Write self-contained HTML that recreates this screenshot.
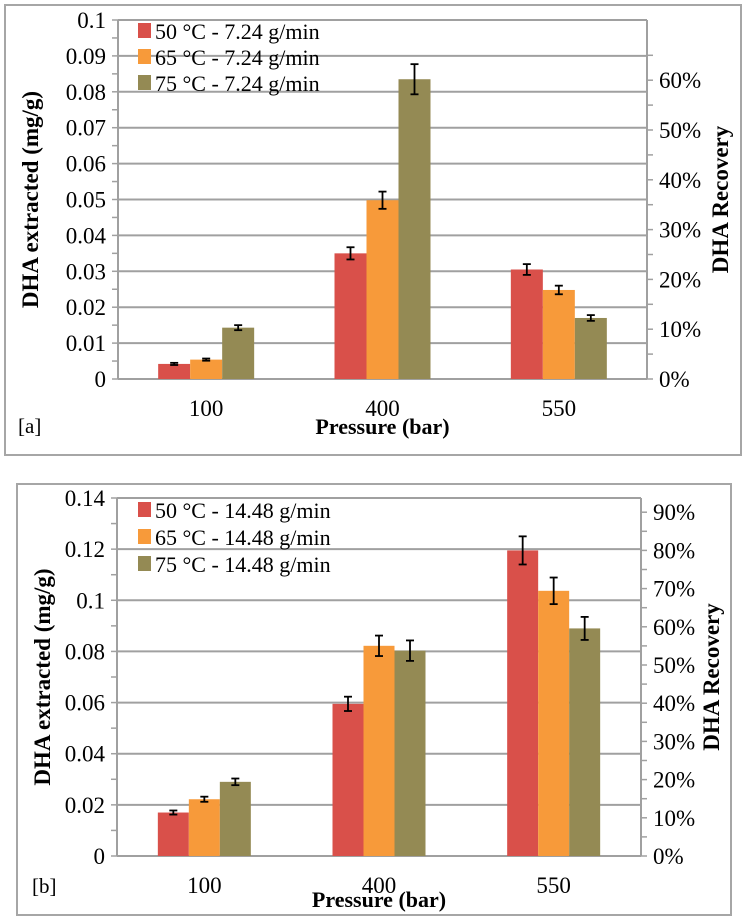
<!DOCTYPE html>
<html><head><meta charset="utf-8"><style>
html,body{margin:0;padding:0;background:#fff;}
svg{display:block;}
svg text{font-family:"Liberation Serif","DejaVu Serif",serif;}
</style></head><body>
<svg id="s" width="746" height="920" font-family="Liberation Serif, serif"></svg>
<script>
const categories = ["100","400","550"];
const seriesNamesA = ["50 °C - 7.24 g/min","65 °C - 7.24 g/min","75 °C - 7.24 g/min"];
const a50 = [0.0042,0.035,0.0305];
const a65 = [0.0054,0.0498,0.0248];
const a75 = [0.0143,0.0835,0.017];
const a50err = [0.0003,0.0017,0.0015];
const a65err = [0.0003,0.0024,0.0012];
const a75err = [0.0007,0.0042,0.0008];
const aLeftTicks = ["0","0.01","0.02","0.03","0.04","0.05","0.06","0.07","0.08","0.09","0.1"];
const aRightTicks = ["0%","10%","20%","30%","40%","50%","60%"];
const seriesNamesB = ["50 °C - 14.48 g/min","65 °C - 14.48 g/min","75 °C - 14.48 g/min"];
const b50 = [0.017,0.0595,0.1195];
const b65 = [0.0222,0.0822,0.1037];
const b75 = [0.029,0.0803,0.089];
const b50err = [0.0008,0.0028,0.0055];
const b65err = [0.001,0.004,0.0052];
const b75err = [0.0013,0.004,0.0045];
const bLeftTicks = ["0","0.02","0.04","0.06","0.08","0.1","0.12","0.14"];
const bRightTicks = ["0%","10%","20%","30%","40%","50%","60%","70%","80%","90%"];

const colors = ["#d9504a","#f79a3a","#948a54"];
const FF = "Liberation Serif, DejaVu Serif, serif";
const svg = document.getElementById('s');
const NS = "http://www.w3.org/2000/svg";
function mk(tag, attrs, parent, txt){
  const e = document.createElementNS(NS, tag);
  for (const k in attrs) e.setAttribute(k, attrs[k]);
  if (tag === 'text') e.setAttribute('font-family', FF);
  if (txt !== undefined) e.textContent = txt;
  parent.appendChild(e); return e;
}

function chart(cfg){
  const g = mk('g', {}, svg);
  
  
  const fr = mk('rect', {x:cfg.fx, y:cfg.fy, width:cfg.fw, height:cfg.fh, fill:'none', stroke:'#a6a6a6', 'stroke-width':2}, g);
  
  
  const L = cfg.left, R = cfg.right, Y0 = cfg.y0, Ytop = cfg.ytop;
  const yMax = cfg.yMax;
  const y = v => Y0 - (v / yMax) * (Y0 - Ytop);
  const n = cfg.leftTicks.length;
  for (let i = 0; i < n; i++){
    const v = parseFloat(cfg.leftTicks[i]);
    const yy = y(v);
    const gl = mk('line', {x1:L, x2:R, y1:yy, y2:yy, stroke:'#a0a0a0', 'stroke-width':2}, g);
    
    
    mk('line', {x1:L-6, x2:L, y1:yy, y2:yy, stroke:'#a0a0a0', 'stroke-width':1.5}, g);
    if (i < n-1){ const ym = y(v + cfg.step/2); mk('line', {x1:L-6, x2:L, y1:ym, y2:ym, stroke:'#a0a0a0', 'stroke-width':1.5}, g); }
    const t = mk('text', {x:L-12, y:yy+8, 'text-anchor':'end', 'font-size':23, fill:'#000'}, g, cfg.leftTicks[i]);
    
    
  }
  mk('line', {x1:L, x2:L, y1:Ytop, y2:Y0, stroke:'#a0a0a0', 'stroke-width':2}, g);
  mk('line', {x1:R, x2:R, y1:Ytop, y2:Y0, stroke:'#a0a0a0', 'stroke-width':2}, g);
  const yr = p => Y0 - p * cfg.rightPx;
  for (let i = 0; i < cfg.rightTicks.length; i++){
    const p = parseFloat(cfg.rightTicks[i]) / 10;
    const yy = yr(p);
    mk('line', {x1:R, x2:R+6, y1:yy, y2:yy, stroke:'#a0a0a0', 'stroke-width':1.5}, g);
    const ym = yr(p + 0.5);
    if (ym > Ytop) mk('line', {x1:R, x2:R+6, y1:ym, y2:ym, stroke:'#a0a0a0', 'stroke-width':1.5}, g);
    const t = mk('text', {x:R+12, y:yy+8, 'font-size':23, fill:'#000'}, g, cfg.rightTicks[i]);
    
    
  }
  const gw = (R - L) / categories.length;
  const bw = cfg.bw;
  const series = cfg.series, errs = cfg.errs;
  for (let c = 0; c < categories.length; c++){
    const cx = L + gw * (c + 0.5);
    for (let s = 0; s < series.length; s++){
      const x0 = cx - 1.5*bw + s*bw;
      const v = series[s][c];
      const b = mk('rect', {x:x0, y:y(v), width:bw, height:Y0 - y(v), fill:colors[s]}, g);
      
      
      const e = errs[s][c], xm = x0 + bw/2;
      const eg = mk('g', {stroke:'#000', 'stroke-width':1.8}, g);
      
      
      mk('line', {x1:xm, x2:xm, y1:y(v+e), y2:y(v-e)}, eg);
      mk('line', {x1:xm-4, x2:xm+4, y1:y(v+e), y2:y(v+e)}, eg);
      mk('line', {x1:xm-4, x2:xm+4, y1:y(v-e), y2:y(v-e)}, eg);
    }
    const t = mk('text', {x:cx, y:cfg.catY, 'text-anchor':'middle', 'font-size':23, fill:'#000'}, g, categories[c]);
    
    
  }
  for (let s = 0; s < 3; s++){
    const ly = cfg.legY + s * cfg.legGap;
    const lg = mk('g', {}, g);
    
    
    mk('rect', {x:138, y:ly-8, width:13, height:15, fill:colors[s]}, lg);
    mk('text', {x:155, y:ly+8, 'font-size':22, fill:'#000'}, lg, cfg.names[s]);
  }
  let t = mk('text', {x:(L+R)/2, y:cfg.titleY, 'text-anchor':'middle', 'font-size':22, 'font-weight':'bold', fill:'#000'}, g, 'Pressure (bar)');
  
  
  const my = (Ytop + Y0) / 2;
  t = mk('text', {x:0, y:0, 'text-anchor':'middle', 'font-size':23, 'font-weight':'bold', fill:'#000', transform:`translate(${cfg.ltx},${my}) rotate(-90)`}, g, 'DHA extracted (mg/g)');
  
  
  t = mk('text', {x:0, y:0, 'text-anchor':'middle', 'font-size':23, 'font-weight':'bold', fill:'#000', transform:`translate(${cfg.rtx},${my}) rotate(-90)`}, g, 'DHA Recovery');
  
  
  t = mk('text', {x:cfg.tagX, y:cfg.tagY, 'font-size':21, fill:'#000'}, g, cfg.tag);
  
  
}

chart({name:'chart-a', fx:5, fy:5, fw:736, fh:450, left:118, right:647, y0:379, ytop:20, yMax:0.1, step:0.01,
  leftTicks:aLeftTicks, rightTicks:aRightTicks, rightPx:49.8, bw:32,
  series:[a50,a65,a75], errs:[a50err,a65err,a75err], names:seriesNamesA,
  catY:416, titleY:434, legY:31, legGap:26, ltx:38, rtx:728, tag:'[a]', tagX:18, tagY:433});
chart({name:'chart-b', fx:17, fy:484, fw:714, fh:431, left:117, right:641, y0:856, ytop:498, yMax:0.14, step:0.02,
  leftTicks:bLeftTicks, rightTicks:bRightTicks, rightPx:38.2, bw:31,
  series:[b50,b65,b75], errs:[b50err,b65err,b75err], names:seriesNamesB,
  catY:893, titleY:907, legY:510, legGap:27, ltx:50, rtx:719, tag:'[b]', tagX:32, tagY:893});
</script>
</body></html>
